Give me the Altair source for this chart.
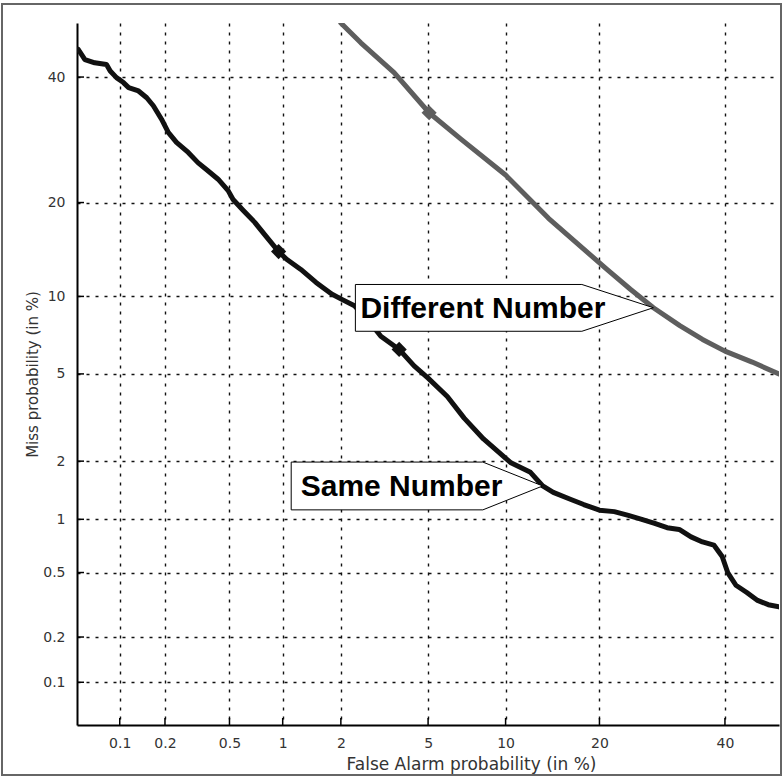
import altair as alt
import pandas as pd
from statistics import NormalDist

# ---------------- data (percent) ----------------
same_far = [0.051, 0.057, 0.067, 0.081, 0.086, 0.095, 0.106, 0.115, 0.134, 0.152,
            0.168, 0.19, 0.21, 0.237, 0.281, 0.324, 0.373, 0.428, 0.491, 0.525,
            0.6, 0.7, 0.8, 0.95, 1.05, 1.25, 1.5, 1.8, 2.0, 2.33,
            2.7, 3.1, 3.75, 4.36, 5.0, 6.0, 7.0, 8.3, 10.4, 12.2,
            13.4, 14.5, 16.4, 18, 20, 22, 24, 26, 28, 30,
            32, 34, 36, 38, 39.5, 40.5, 42, 44, 46, 48, 50]
same_miss = [45.1, 43.2, 42.6, 42.3, 41.1, 39.9, 39.0, 38.1, 37.5, 36.3,
             34.9, 32.6, 30.4, 28.8, 27.2, 25.6, 24.4, 23.2, 21.6, 20.4,
             19.0, 17.5, 16.0, 14.2, 13.4, 12.4, 11.2, 10.2, 9.8, 9.25,
             8.2, 7.1, 6.3, 5.4, 4.8, 4.0, 3.2, 2.56, 1.97, 1.76,
             1.5, 1.39, 1.28, 1.2, 1.12, 1.1, 1.05, 1.0, 0.95, 0.9,
             0.88, 0.8, 0.75, 0.72, 0.62, 0.5, 0.42, 0.38, 0.34, 0.32, 0.31]

diff_far = [2.0, 2.5, 3.56, 5.05, 6.8, 10, 14, 21, 24.3, 27.8, 32.1, 36, 40, 45, 50]
diff_miss = [50, 46.3, 40.8, 33.7, 29.3, 23.8, 18.0, 12.4, 10.6, 9.1, 7.8, 6.9, 6.2, 5.6, 5.0]

marker_far = [0.95, 3.75, 5.05]
marker_miss = [14.2, 6.3, 33.7]
marker_series = ["Same Number", "Same Number", "Different Number"]

label_text = ["Different Number", "Same Number"]
label_far = [27.8, 13.4]
label_miss = [9.1, 1.5]

tick_pct = [0.1, 0.2, 0.5, 1, 2, 5, 10, 20, 40]

# ---------------- scale helpers ----------------
nd = NormalDist()
tick_z = [nd.inv_cdf(p / 100) for p in tick_pct]
z_lo, z_hi = nd.inv_cdf(0.0005), 0.0

W = H = 702

curves = pd.DataFrame({
    "far": same_far + diff_far,
    "miss": same_miss + diff_miss,
    "series": ["Same Number"] * len(same_far) + ["Different Number"] * len(diff_far),
    "order": list(range(len(same_far))) + list(range(len(diff_far))),
})
markers = pd.DataFrame({"far": marker_far, "miss": marker_miss, "series": marker_series})
labels = pd.DataFrame({"text": label_text, "far": label_far, "miss": label_miss})
ticks = pd.DataFrame({"far": tick_pct, "miss": tick_pct})

label_expr = "format(cumulativeNormal(datum.value) * 100, '.1~f')"

x_enc = alt.X("zx:Q",
              scale=alt.Scale(domain=[z_lo, z_hi], nice=False, zero=False),
              axis=alt.Axis(values=tick_z, labelExpr=label_expr,
                            title="False Alarm probability (in %)",
                            labelPadding=11, titlePadding=6,
                            titleFontSize=17, titleX=394, titleAlign="center"))
y_enc = alt.Y("zy:Q",
              scale=alt.Scale(domain=[z_lo, z_hi], nice=False, zero=False),
              axis=alt.Axis(values=tick_z, labelExpr=label_expr,
                            title="Miss probability (in %)",
                            labelPadding=12, titlePadding=2, titleFontSize=15))

calc = dict(zx="quantileNormal(datum.far / 100)", zy="quantileNormal(datum.miss / 100)")

color_scale = alt.Scale(domain=["Same Number", "Different Number"], range=["#111111", "#5e5e5e"])

lines = alt.Chart(curves).transform_calculate(**calc).mark_line(
    strokeWidth=5, clip=True, strokeJoin="round", strokeCap="round"
).encode(
    x=x_enc, y=y_enc,
    color=alt.Color("series:N", scale=color_scale, legend=None),
    detail="series:N",
    order="order:Q",
)

pts = alt.Chart(markers).transform_calculate(**calc).mark_point(
    shape="diamond", filled=True, size=230, opacity=1
).encode(
    x=x_enc, y=y_enc,
    color=alt.Color("series:N", scale=color_scale, legend=None),
)

# inward axis ticks
xt = alt.Chart(ticks).transform_calculate(**calc).mark_rule(
    color="black", strokeWidth=1.5
).encode(x=x_enc, y=alt.value(H), y2=alt.value(H - 7))
yt = alt.Chart(ticks).transform_calculate(**calc).mark_rule(
    color="black", strokeWidth=1.5
).encode(y=y_enc, x=alt.value(0), x2=alt.value(7))

def callout(i, path, size, dx):
    d = labels.iloc[[i]]
    box = alt.Chart(d).transform_calculate(**calc).mark_point(
        shape=path, size=size, filled=True, fill="white", stroke="black",
        strokeWidth=1, opacity=1, fillOpacity=1
    ).encode(x=x_enc, y=y_enc)
    txt = alt.Chart(d).transform_calculate(**calc).mark_text(
        align="left", baseline="alphabetic", dx=dx, dy=10,
        font="Liberation Sans", fontSize=30, fontWeight="bold", color="black"
    ).encode(x=x_enc, y=y_enc, text="text:N")
    return [box, txt]

c_diff = callout(0, "M0,0L-0.24,-0.078L-1,-0.078L-1,0.079L-0.24,0.079Z", 596 ** 2, -293)
c_same = callout(1, "M0,0L-0.238,-0.095L-1,-0.095L-1,0.095L-0.238,0.095Z", 503 ** 2, -242)

frame = alt.Chart(pd.DataFrame({"a": [0]})).mark_rect(
    fill=None, stroke="#666666", strokeWidth=2
).encode(x=alt.value(-75), x2=alt.value(704), y=alt.value(-19), y2=alt.value(752))

chart = alt.layer(lines, pts, xt, yt, *c_diff, *c_same, frame).properties(
    width=W, height=H,
    background="white",
    autosize=alt.AutoSizeParams(type="none"),
    padding={"left": 77, "top": 23, "right": 5, "bottom": 54},
).configure_view(stroke=None).configure_axis(
    grid=True, gridColor="#111111", gridDash=[3, 6], gridWidth=1.4, gridOpacity=1,
    domainColor="black", domainWidth=2, ticks=False, tickSize=0,
    labelFont="DejaVu Sans", labelFontSize=14, labelColor="#333333",
    titleFont="DejaVu Sans", titleFontWeight="normal", titleColor="#333333",
)

chart.save("out.html", embed_options={"renderer": "svg", "actions": False})
